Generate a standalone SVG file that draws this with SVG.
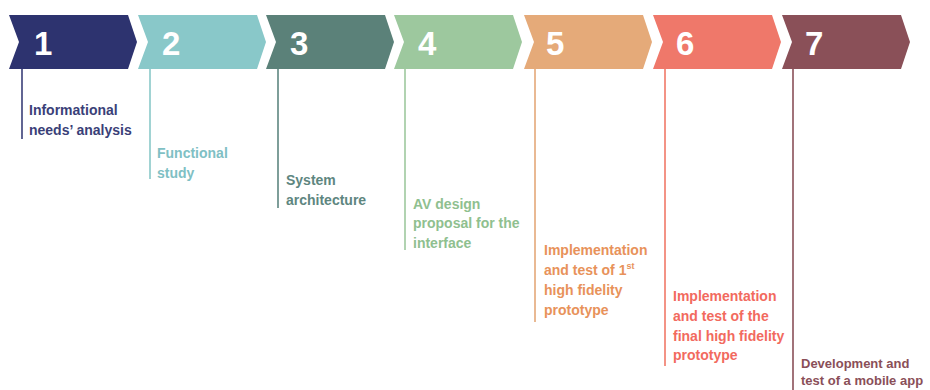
<svg xmlns="http://www.w3.org/2000/svg" width="930" height="390" viewBox="0 0 930 390">
<style>
.num{font-family:"Liberation Sans",Arial,sans-serif;font-weight:bold;font-size:33px;fill:#ffffff}
.lbl{font-family:"Liberation Sans",Arial,sans-serif;font-weight:bold;font-size:14px}
.lbl.sm{font-size:13px}
.ln{stroke-width:1.6;fill:none}
</style>
<defs>
<path id="chev" d="M0,15 L119,15 L128,42 L119,69 L0,69 L10,42 Z"/>
</defs>
<rect width="930" height="390" fill="#ffffff"/>
<g id="connectors">
<line class="ln" x1="22" y1="69" x2="22" y2="139" stroke="#3a3f78"/>
<line class="ln" x1="150" y1="69" x2="150" y2="179" stroke="#8ac8c8"/>
<line class="ln" x1="278" y1="69" x2="278" y2="208" stroke="#5e8680"/>
<line class="ln" x1="405" y1="69" x2="405" y2="250" stroke="#9ec89e"/>
<line class="ln" x1="535" y1="69" x2="535" y2="322" stroke="#e4a878"/>
<line class="ln" x1="665" y1="69" x2="665" y2="366" stroke="#f07868"/>
<line class="ln" x1="793" y1="69" x2="793" y2="390" stroke="#8a5058"/>
</g>
<g id="step1">
<use href="#chev" x="9" fill="#2d336f"/>
<text class="num" x="34" y="55">1</text>
<text class="lbl" fill="#3a3f78"><tspan x="29" y="115">Informational</tspan><tspan x="29" y="135">needs’ analysis</tspan></text>
</g>
<g id="step2">
<use href="#chev" x="138" fill="#89c8c9"/>
<text class="num" x="162" y="55">2</text>
<text class="lbl" fill="#7fc0c4"><tspan x="157" y="158">Functional</tspan><tspan x="157" y="178">study</tspan></text>
</g>
<g id="step3">
<use href="#chev" x="266" fill="#5b8179"/>
<text class="num" x="290" y="55">3</text>
<text class="lbl" fill="#5e8680"><tspan x="286" y="185">System</tspan><tspan x="286" y="205">architecture</tspan></text>
</g>
<g id="step4">
<use href="#chev" x="394" fill="#9dc89e"/>
<text class="num" x="418" y="55">4</text>
<text class="lbl" fill="#8fc08f"><tspan x="413" y="209">AV design</tspan><tspan x="413" y="228">proposal for the</tspan><tspan x="413" y="248">interface</tspan></text>
</g>
<g id="step5">
<use href="#chev" x="524" fill="#e5aa79"/>
<text class="num" x="546" y="55">5</text>
<text class="lbl" fill="#e8925a"><tspan x="544" y="255">Implementation</tspan><tspan x="544" y="275">and test of 1<tspan font-size="9" dy="-6">st</tspan></tspan><tspan x="544" y="295">high fidelity</tspan><tspan x="544" y="315">prototype</tspan></text>
</g>
<g id="step6">
<use href="#chev" x="653" fill="#ef786a"/>
<text class="num" x="676" y="55">6</text>
<text class="lbl" fill="#f26a5e"><tspan x="673" y="301">Implementation</tspan><tspan x="673" y="321">and test of the</tspan><tspan x="673" y="341">final high fidelity</tspan><tspan x="673" y="360">prototype</tspan></text>
</g>
<g id="step7">
<use href="#chev" x="782" fill="#8a5058"/>
<text class="num" x="805" y="55">7</text>
<text class="lbl sm" fill="#8a4f58"><tspan x="801" y="368">Development and</tspan><tspan x="801" y="385">test of a mobile app</tspan></text>
</g>
</svg>
